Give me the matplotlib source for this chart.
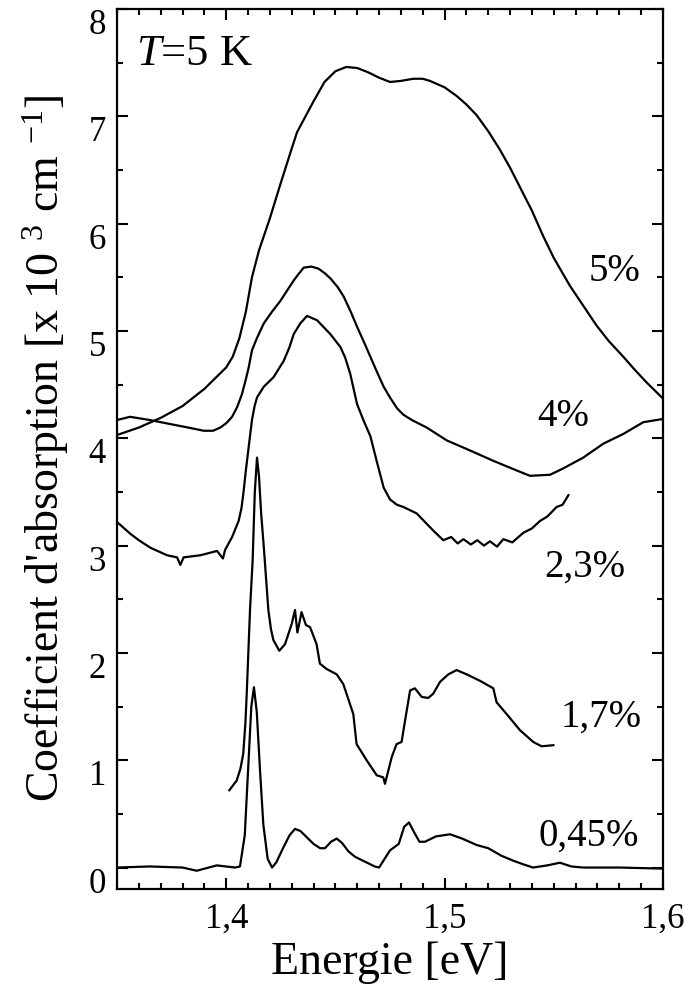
import matplotlib
matplotlib.use("Agg")
import matplotlib.pyplot as plt
from matplotlib.ticker import MultipleLocator

plt.rcParams["font.family"] = ["Liberation Serif", "DejaVu Serif"]
plt.rcParams["mathtext.fontset"] = "custom"
plt.rcParams["mathtext.rm"] = "Liberation Serif"
plt.rcParams["mathtext.it"] = "Liberation Serif:italic"

# Energie [eV] / absorption [x 10^3 cm^-1]
E_5 = [1.350, 1.360, 1.370, 1.380, 1.390, 1.395, 1.400, 1.403, 1.406, 1.409,
       1.4118, 1.415, 1.420, 1.425, 1.430, 1.4324, 1.435, 1.440, 1.445, 1.450,
       1.455, 1.460, 1.465, 1.470, 1.475, 1.480, 1.4857, 1.490, 1.4933, 1.500,
       1.5055, 1.510, 1.5147, 1.520, 1.525, 1.530, 1.535, 1.540, 1.545, 1.550,
       1.5574, 1.563, 1.5696, 1.575, 1.5818, 1.587, 1.5925, 1.600]
A_5 = [4.03, 4.10, 4.19, 4.30, 4.46, 4.56, 4.66, 4.76, 4.93, 5.18,
       5.50, 5.75, 6.05, 6.38, 6.70, 6.85, 6.95, 7.14, 7.32, 7.42,
       7.46, 7.45, 7.41, 7.36, 7.32, 7.33, 7.35, 7.35, 7.33, 7.27,
       7.19, 7.11, 7.01, 6.86, 6.70, 6.52, 6.32, 6.12, 5.89, 5.68,
       5.42, 5.25, 5.05, 4.91, 4.76, 4.64, 4.52, 4.37]

E_4 = [1.350, 1.356, 1.365, 1.3775, 1.385, 1.3897, 1.394, 1.3973, 1.400, 1.4027,
       1.405, 1.4072, 1.409, 1.4103, 1.4118, 1.414, 1.4172, 1.421, 1.4248, 1.428,
       1.4309, 1.4335, 1.4355, 1.439, 1.4423, 1.445, 1.4477, 1.451, 1.4538, 1.457,
       1.4599, 1.463, 1.466, 1.469, 1.4721, 1.475, 1.4782, 1.4811, 1.485, 1.4918,
       1.501, 1.5101, 1.5223, 1.533, 1.5391, 1.5483, 1.5544, 1.5635, 1.5727, 1.5818,
       1.591, 1.600]
A_4 = [4.17, 4.20, 4.17, 4.12, 4.09, 4.07, 4.07, 4.10, 4.14, 4.20,
       4.29, 4.41, 4.55, 4.66, 4.82, 4.93, 5.07, 5.18, 5.28, 5.38,
       5.47, 5.54, 5.59, 5.60, 5.58, 5.54, 5.49, 5.41, 5.32, 5.18,
       5.04, 4.90, 4.76, 4.62, 4.48, 4.38, 4.28, 4.22, 4.17, 4.10,
       3.98, 3.90, 3.79, 3.70, 3.65, 3.66, 3.72, 3.82, 3.95, 4.04,
       4.15, 4.18]

E_23 = [1.350, 1.3561, 1.360, 1.3653, 1.3729, 1.3775, 1.3790, 1.3805, 1.3882, 1.3958,
        1.3985, 1.3995, 1.4027, 1.4057, 1.4070, 1.4080, 1.4090, 1.4103, 1.4118, 1.4130,
        1.4141, 1.4172, 1.4217, 1.4263, 1.4290, 1.4309, 1.4339, 1.4370, 1.4416, 1.4477,
        1.4523, 1.4545, 1.4568, 1.4599, 1.4630, 1.4660, 1.4690, 1.4721, 1.4750, 1.4782,
        1.4811, 1.4872, 1.4910, 1.4948, 1.4994, 1.5030, 1.5060, 1.5086, 1.5120, 1.5150,
        1.5180, 1.5208, 1.5240, 1.5269, 1.5310, 1.5361, 1.5400, 1.5437, 1.5470, 1.5513,
        1.5540, 1.5567]
A_23 = [3.22, 3.11, 3.05, 2.98, 2.91, 2.89, 2.82, 2.89, 2.91, 2.95,
        2.88, 2.96, 3.08, 3.23, 3.35, 3.51, 3.70, 3.92, 4.17, 4.30,
        4.38, 4.48, 4.57, 4.72, 4.85, 4.97, 5.07, 5.14, 5.10, 4.97,
        4.85, 4.75, 4.60, 4.32, 4.16, 4.02, 3.78, 3.54, 3.43, 3.38,
        3.36, 3.30, 3.22, 3.14, 3.05, 3.08, 3.02, 3.06, 3.01, 3.05,
        3.00, 3.04, 2.99, 3.06, 3.03, 3.12, 3.16, 3.23, 3.27, 3.36,
        3.38, 3.47]

E_17 = [1.4014, 1.4048, 1.4065, 1.4078, 1.4088, 1.4094, 1.4109, 1.4121, 1.4131, 1.4141,
        1.4150, 1.4160, 1.4172, 1.4193, 1.4205, 1.4216, 1.4243, 1.4269, 1.4300, 1.4315,
        1.4326, 1.4345, 1.4365, 1.4384, 1.4414, 1.4429, 1.4460, 1.4506, 1.4536, 1.4582,
        1.4597, 1.4643, 1.4689, 1.4719, 1.4727, 1.4758, 1.4780, 1.4803, 1.4819, 1.4842,
        1.4864, 1.4895, 1.4925, 1.4948, 1.4979, 1.5017, 1.5055, 1.5101, 1.5162, 1.5223,
        1.5238, 1.5284, 1.5345, 1.5406, 1.5444, 1.5498]
A_17 = [0.72, 0.81, 0.92, 1.06, 1.35, 1.62, 2.40, 2.86, 3.50, 3.82,
        3.65, 3.30, 2.99, 2.40, 2.22, 2.12, 2.02, 2.08, 2.27, 2.40,
        2.19, 2.38, 2.26, 2.24, 2.08, 1.90, 1.85, 1.80, 1.71, 1.43,
        1.15, 1.00, 0.86, 0.84, 0.78, 1.03, 1.15, 1.17, 1.37, 1.65,
        1.67, 1.59, 1.58, 1.62, 1.73, 1.80, 1.84, 1.80, 1.74, 1.67,
        1.54, 1.43, 1.28, 1.17, 1.13, 1.14]

E_045 = [1.350, 1.365, 1.380, 1.3865, 1.3957, 1.4040, 1.4063, 1.4085, 1.4100, 1.4115,
         1.4127, 1.4140, 1.4155, 1.4170, 1.4190, 1.4210, 1.4230, 1.4260, 1.4290, 1.4315,
         1.4340, 1.4370, 1.4400, 1.4430, 1.4452, 1.4480, 1.4506, 1.4530, 1.4560, 1.4590,
         1.4640, 1.4680, 1.4700, 1.4725, 1.4750, 1.4770, 1.4790, 1.4815, 1.4837, 1.4860,
         1.4885, 1.4910, 1.4960, 1.5025, 1.5080, 1.5147, 1.5200, 1.5260, 1.5313, 1.5360,
         1.5405, 1.5470, 1.5528, 1.5580, 1.5634, 1.580, 1.600]
A_045 = [0.00, 0.01, 0.00, -0.03, 0.02, 0.00, 0.01, 0.30, 0.90, 1.50,
         1.68, 1.45, 0.90, 0.40, 0.08, 0.00, 0.05, 0.18, 0.30, 0.36,
         0.34, 0.28, 0.22, 0.18, 0.18, 0.24, 0.27, 0.23, 0.15, 0.10,
         0.05, 0.01, 0.00, 0.08, 0.16, 0.19, 0.22, 0.38, 0.42, 0.33,
         0.24, 0.24, 0.29, 0.31, 0.27, 0.21, 0.18, 0.11, 0.065, 0.03,
         0.00, 0.02, 0.045, 0.01, 0.00, 0.00, -0.01]

curves = [(E_5, A_5), (E_4, A_4), (E_23, A_23), (E_17, A_17), (E_045, A_045)]
curve_labels = ["5%", "4%", "2,3%", "1,7%", "0,45%"]
label_pos = [(1.5776, 5.55), (1.5542, 4.20), (1.5640, 2.80), (1.5715, 1.40), (1.5660, 0.29)]

fig = plt.figure(figsize=(6.85, 10.01), dpi=100)
ax = fig.add_axes([117 / 685, 1 - 889 / 1001, 546 / 685, 880 / 1001])

for (e, a) in curves:
    ax.plot(e, a, color="black", lw=1.6, solid_joinstyle="round")

for txt, (lx, ly) in zip(curve_labels, label_pos):
    ax.text(lx, ly, txt, ha="center", va="center", fontsize=28)

ax.text(1.3588, 7.58, "$T$=5 K", ha="left", va="center", fontsize=32)

ax.set_xlim(1.35, 1.6)
ax.set_ylim(-0.2, 8)
ax.xaxis.set_major_locator(MultipleLocator(0.1))
ax.xaxis.set_minor_locator(MultipleLocator(0.01))
ax.yaxis.set_major_locator(MultipleLocator(1))
ax.yaxis.set_minor_locator(MultipleLocator(0.5))
ax.xaxis.set_major_formatter(lambda v, p: f"{v:.1f}".replace(".", ","))
ax.yaxis.set_major_formatter(lambda v, p: f"{v:.0f}")

ax.tick_params(which="both", direction="in", top=True, right=True, width=1.5,
               labelsize=25)
ax.tick_params(axis="x", which="major", length=8, pad=10)
ax.tick_params(axis="y", which="major", length=8, pad=8)
ax.tick_params(which="minor", length=4.5)
for t in ax.get_yticklabels():
    t.set_va("top")
for s in ax.spines.values():
    s.set_linewidth(1.6)

ax.set_xlabel("Energie [eV]", fontsize=33)
ax.set_ylabel("Coefficient d'absorption [x 10 $^3$ cm $^{-1}$]", fontsize=33)
ax.xaxis.set_label_coords(0.5, -0.06)
ax.yaxis.set_label_coords(-0.085, 0.5)

fig.savefig("out.png", dpi=100)
